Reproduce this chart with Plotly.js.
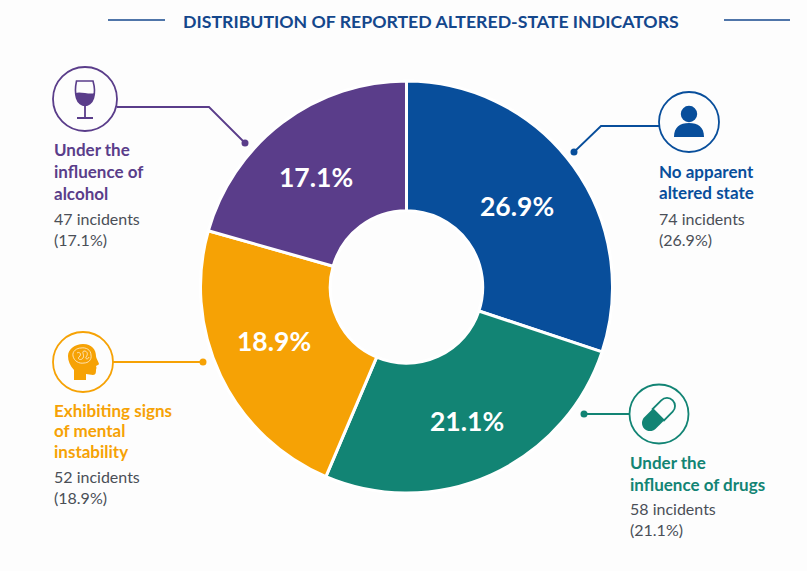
<!DOCTYPE html>
<html>
<head>
<meta charset="utf-8">
<script src="https://cdn.plot.ly/plotly-3.0.1.min.js"></script>
<style>html,body{margin:0;padding:0;background:#fdfdfd}</style>
</head>
<body>
<div id="chart" style="width:807px;height:571px"></div>
<script>
var W = 807, H = 571;
var categories = ["No apparent altered state", "Under the influence of drugs", "Exhibiting signs of mental instability", "Under the influence of alcohol"];
var incidents = [74, 58, 52, 47];
var percentLabels = ["26.9%", "21.1%", "18.9%", "17.1%"];
// slice sizes as drawn in the picture (share of the ring, in percent)
var sliceShares = [30.1, 26.3, 23.0, 20.6];
var colors = ["#084e9b", "#128474", "#f6a205", "#5a3d8a"];
var headings = [["No apparent", "altered state"], ["Under the", "influence of drugs"], ["Exhibiting signs", "of mental", "instability"], ["Under the", "influence of", "alcohol"]];
var headingX = [658, 629, 53, 53];
var headingY = [[171, 192], [462, 484], [410, 430, 451], [149, 171, 193]];
var bodyY = [[218, 239], [508, 529], [476, 497], [218, 239]];
var pctX = [517, 467, 274, 316];
var pctY = [206, 421, 341, 177];
var titleText = "DISTRIBUTION OF REPORTED ALTERED-STATE INDICATORS";
var titleColor = "#14478c";
var bodyColor = "#4a4f57";
var FONT = "Lato, 'Open Sans', sans-serif";

function px(x){return x/W;}
function py(y){return 1-y/H;}
function P(s){
  var isX = true;
  return s.replace(/[A-Za-z]|-?\d+(\.\d+)?/g, function(t){
    if(/[A-Za-z]/.test(t)){isX = true; return t;}
    var v = parseFloat(t);
    var r = isX ? px(v) : py(v);
    isX = !isX;
    return r.toFixed(5);
  }).replace(/\s+/g,' ');
}
function path(s, fill, lineColor, lw){
  return {type:"path", xref:"paper", yref:"paper", path:P(s), fillcolor:fill||"rgba(0,0,0,0)",
          line:{color:lineColor||"rgba(0,0,0,0)", width:lw||0}};
}
function circle(cx, cy, r, fill, lineColor, lw){
  return {type:"circle", xref:"paper", yref:"paper", x0:px(cx-r), x1:px(cx+r), y0:py(cy+r), y1:py(cy-r),
          fillcolor:fill||"rgba(0,0,0,0)", line:{color:lineColor||"rgba(0,0,0,0)", width:lw||0}};
}
var B=colors[0], G=colors[1], O=colors[2], V=colors[3];
var shapes = [
  path("M108 20 L165 20", null, titleColor, 1.5),
  path("M724 20 L790 20", null, titleColor, 1.5),
  circle(689,122,30,"rgba(0,0,0,0)",B,1.8),
  path("M659 126 L601 126 L574 152", null, B, 1.8),
  circle(574,152,3.5,B),
  circle(689,114,8.2,B),
  path("M674 137 C674 127 680 123 689 123 C698 123 704 127 704 137 Z", B),
  circle(659,414,29.5,"rgba(0,0,0,0)",G,1.8),
  path("M584 414 L630 414", null, G, 1.8),
  circle(584,414,3.5,G),
  path("M661.3 400.3 C664.4 397.2 669.6 397.2 672.7 400.3 C675.8 403.4 675.8 408.6 672.7 411.7 L664 420.4 L652.6 409 Z", "rgba(0,0,0,0)", G, 1.8),
  path("M652.6 409 L664 420.4 L655.7 428.7 C652.6 431.8 647.4 431.8 644.3 428.7 C641.2 425.6 641.2 420.4 644.3 417.3 Z", G),
  circle(83,362,30,"rgba(0,0,0,0)",O,1.8),
  path("M113 362 L203 362", null, O, 1.8),
  circle(203,362,3.5,O),
  path("M74 380 L74 370 C70 366 68 361 68 356 C68 349 75 344 83 344 C92 344 96 350 96 356 C96 358 99 363 99 364 C99 365 97 365 96 366 C97 368 96 369 96 370 C96 372 96 375 93 375 L86 374 L86 380 Z", O),
  path("M73 356 C72 351 77 348 81 348 C86 347 91 350 91 355 C92 360 88 363 84 363 C79 364 74 361 73 356 Z", "rgba(0,0,0,0)", "#ffe9c4", 0.9),
  path("M77 353 C80 351 82 355 79 357 C77 359 81 361 83 358 C85 355 81 352 84 351 C88 351 88 355 86 357 C85 359 88 360 89 357", null, "#ffe9c4", 0.9),
  circle(85,99,32,"rgba(0,0,0,0)",V,1.8),
  path("M117 107 L209 107 L245 143", null, V, 1.8),
  circle(245,143,3.5,V),
  path("M76.5 81 L93 81 C95 88 95 93 93.5 98 C92 103 88 105.5 85 105.5 C82 105.5 78 103 76.5 98 C75 93 75 88 76.5 81 Z", "rgba(0,0,0,0)", V, 1.6),
  path("M75.6 93 C80 91 90 95 94.4 93 C94.4 95 94 97 93.5 98 C92 103 88 105.5 85 105.5 C82 105.5 78 103 76.5 98 C76 97 75.6 95 75.6 93 Z", V),
  path("M85 105 L85 118", null, V, 1.8),
  path("M77 118 L93 118", null, V, 2)
];

var annotations = [{
  x:px(431), y:py(21), xref:"paper", yref:"paper", xanchor:"center", yanchor:"middle", showarrow:false,
  text:"<b>"+titleText+"</b>", font:{family:FONT, size:17.7, color:titleColor}
}];
function addLine(t, x, y, size, color, bold){
  annotations.push({x:px(x), y:py(y), xref:"paper", yref:"paper", xanchor:"left", yanchor:"middle",
    showarrow:false, borderpad:0, text:bold?"<b>"+t+"</b>":t, font:{family:FONT, size:size, color:color}});
}
categories.forEach(function(c,i){
  headings[i].forEach(function(t,j){ addLine(t, headingX[i], headingY[i][j], 17, colors[i], true); });
  addLine(incidents[i]+" incidents", headingX[i], bodyY[i][0], 16, bodyColor, false);
  addLine("("+percentLabels[i]+")", headingX[i], bodyY[i][1], 16, bodyColor, false);
  annotations.push({x:px(pctX[i]), y:py(pctY[i]), xref:"paper", yref:"paper", xanchor:"center", yanchor:"middle",
    showarrow:false, text:"<b>"+percentLabels[i]+"</b>", font:{family:FONT, size:26.5, color:"#ffffff"}});
});

var trace = {
  type:"pie", labels:categories, values:sliceShares, text:percentLabels, textinfo:"none",
  sort:false, direction:"clockwise", rotation:0,
  hole:0.37, marker:{colors:colors, line:{color:"#ffffff", width:3}},
  domain:{x:[px(200.5), px(612.5)], y:[py(493), py(81)]}, showlegend:false, hoverinfo:"label+text"
};
Plotly.newPlot("chart", [trace], {
  width:W, height:H, margin:{l:0,r:0,t:0,b:0}, paper_bgcolor:"#fdfdfd", plot_bgcolor:"#fdfdfd",
  showlegend:false, shapes:shapes, annotations:annotations
}, {displayModeBar:false, staticPlot:true});
</script>
</body>
</html>
